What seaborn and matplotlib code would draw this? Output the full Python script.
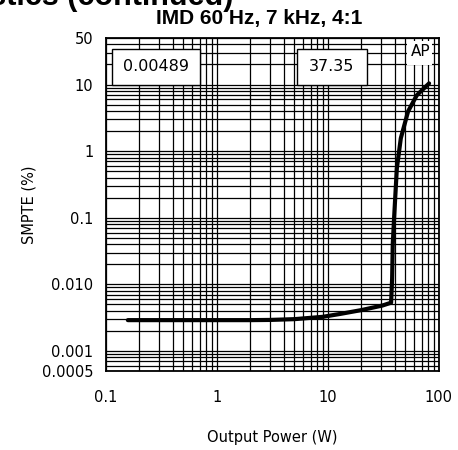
import pandas as pd
import seaborn as sns
import matplotlib.pyplot as plt
from matplotlib.patches import Rectangle
from matplotlib.ticker import LogLocator, FixedLocator, NullFormatter

# curve
power_w = [0.158, 0.5, 1, 2, 3, 5, 9, 13, 20, 31, 37.2,
           38.0, 38.5, 39.6, 41.9, 45.5, 52.9, 63.4, 81.8]
smpte_pct = [0.0029, 0.0029, 0.0029, 0.0029, 0.00292, 0.003, 0.00325, 0.0036, 0.0041, 0.0048, 0.0053,
             0.012, 0.04, 0.1, 0.55, 1.56, 3.95, 6.9, 10.4]

y_ticks = [50, 10, 1, 0.1, 0.01, 0.001, 0.0005]
y_labels = ["50", "10", "1", "0.1", "0.010", "0.001", "0.0005"]
x_ticks = [0.1, 1, 10, 100]
x_labels = ["0.1", "1", "10", "100"]

df = pd.DataFrame({"power": power_w, "smpte": smpte_pct})

sns.set_style("white")
plt.rcParams['font.family'] = ['DejaVu Sans']
plt.rcParams['text.color'] = 'black'
plt.rcParams['axes.labelcolor'] = 'black'

fig = plt.figure(figsize=(4.58, 4.50), dpi=100)
ax = fig.add_axes([0.231, 0.1756, 0.727, 0.74])

ax.set_xscale("log")
ax.set_yscale("log")
ax.set_xlim(0.1, 100)
ax.set_ylim(0.0005, 50)

# grid: every decade step on both axes
ax.xaxis.set_minor_locator(LogLocator(base=10, subs=range(2, 10)))
ax.yaxis.set_minor_locator(LogLocator(base=10, subs=range(2, 10)))
ax.xaxis.set_minor_formatter(NullFormatter())
ax.yaxis.set_minor_formatter(NullFormatter())
ax.grid(which="both", color="black", lw=0.9)
ax.set_axisbelow(True)

sns.lineplot(data=df, x="power", y="smpte", sort=False, estimator=None,
             color="black", lw=3, ax=ax, zorder=3)

ax.yaxis.set_major_locator(FixedLocator(y_ticks))
ax.set_yticklabels(y_labels)
ax.xaxis.set_major_locator(FixedLocator(x_ticks))
ax.set_xticklabels(x_labels)
ax.tick_params(which="both", length=0, labelsize=10.5, colors="black")
ax.tick_params(axis="x", pad=14)
ax.tick_params(axis="y", pad=9)

for s in ax.spines.values():
    s.set_color("black")
    s.set_linewidth(1.3)

ax.set_xlabel("Output Power (W)", fontsize=10.5, labelpad=18)
ax.set_ylabel("SMPTE (%)", fontsize=10.5, labelpad=4)

# cursor readout boxes
for (x0, x1, label) in [(0.019, 0.283, "0.00489"), (0.574, 0.784, "37.35")]:
    ax.add_patch(Rectangle((x0, 0.859), x1 - x0, 0.108, transform=ax.transAxes,
                           fc="white", ec="black", lw=1, zorder=5))
    ax.text((x0 + x1) / 2, 0.913, label, transform=ax.transAxes, fontsize=11.5,
            va="center", ha="center", zorder=6)

ax.add_patch(Rectangle((0.905, 0.92), 0.075, 0.07, transform=ax.transAxes,
                       fc="white", ec="none", zorder=5))
ax.text(0.945, 0.958, "AP", transform=ax.transAxes, fontsize=11,
        va="center", ha="center", zorder=6)

fig.text(259 / 458, 1 - 18.5 / 450, "IMD 60 Hz, 7 kHz, 4:1", family="Liberation Sans",
         fontweight="bold", fontsize=15, ha="center", va="center")
fig.text(233 / 458, 1 - 5 / 450, "Typical Characteristics (continued)",
         family="Liberation Sans", fontweight="bold", fontsize=22,
         ha="right", va="baseline")

fig.savefig("out.png", dpi=100)
